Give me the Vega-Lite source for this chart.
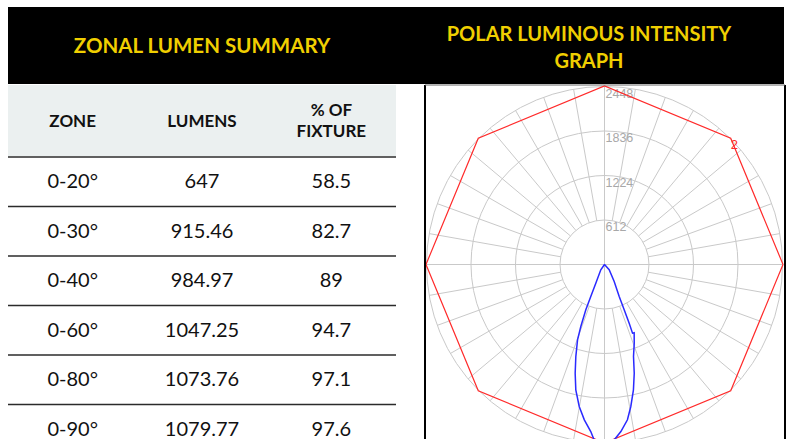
{
  "$schema": "https://vega.github.io/schema/vega-lite/v6.json",
  "background": "white",
  "padding": {"left": 7, "top": 7, "right": 0, "bottom": 0},
  "config": {"view": {"stroke": null}},
  "datasets": {
    "rings": [{"r": 612}, {"r": 1224}, {"r": 1836}, {"r": 2448}],
    "zones": [
      {"zone": "0-20°", "lumens": 647, "pct": 58.5},
      {"zone": "0-30°", "lumens": 915.46, "pct": 82.7},
      {"zone": "0-40°", "lumens": 984.97, "pct": 89},
      {"zone": "0-60°", "lumens": 1047.25, "pct": 94.7},
      {"zone": "0-80°", "lumens": 1073.76, "pct": 97.1},
      {"zone": "0-90°", "lumens": 1079.77, "pct": 97.6}
    ],
    "headers": [
      {"col": "zone", "label": "ZONE", "lines": 1},
      {"col": "lumens", "label": "LUMENS", "lines": 1},
      {"col": "pct", "label": "% OF\nFIXTURE", "lines": 2}
    ]
  },
  "spacing": 0,
  "vconcat": [
    {
      "spacing": 0,
      "hconcat": [
        {
          "width": 413, "height": 77,
          "view": {"fill": "#000000", "stroke": null},
          "data": {"values": [{"t": "ZONAL LUMEN SUMMARY"}]},
          "mark": {"type": "text", "font": "Lato", "fontWeight": "bold", "fontSize": 20.5, "color": "#f0cf00", "dx": -12.5, "dy": 1, "baseline": "middle"},
          "encoding": {"text": {"field": "t", "type": "nominal"}}
        },
        {
          "width": 363, "height": 77,
          "view": {"fill": "#000000", "stroke": null},
          "data": {"values": [{"t": "POLAR LUMINOUS INTENSITY\nGRAPH"}]},
          "mark": {"type": "text", "font": "Lato", "fontWeight": "bold", "fontSize": 20, "color": "#f0cf00", "dx": -13.5, "dy": -11, "baseline": "middle", "lineBreak": "\n", "lineHeight": 27},
          "encoding": {"text": {"field": "t", "type": "nominal"}}
        }
      ]
    },
    {
      "spacing": 27,
      "hconcat": [
        {
          "spacing": 0,
          "vconcat": [
            {
              "width": 388, "height": 71,
              "view": {"fill": "#ebf0f0", "stroke": null},
              "data": {"name": "headers"},
              "layer": [
                {
                  "transform": [{"filter": "datum.lines == 1"}],
                  "mark": {"type": "text", "font": "Lato", "fontWeight": "bold", "fontSize": 17, "color": "#111111", "baseline": "middle", "dy": 1},
                  "encoding": {
                    "x": {"field": "col", "type": "nominal", "scale": {"domain": ["zone", "lumens", "pct"], "paddingInner": 0, "paddingOuter": 0}, "axis": null},
                    "text": {"field": "label", "type": "nominal"}
                  }
                },
                {
                  "transform": [{"filter": "datum.lines == 2"}],
                  "mark": {"type": "text", "font": "Lato", "fontWeight": "bold", "fontSize": 17, "color": "#111111", "baseline": "middle", "dy": -9.5, "lineBreak": "\n", "lineHeight": 21},
                  "encoding": {
                    "x": {"field": "col", "type": "nominal", "scale": {"domain": ["zone", "lumens", "pct"], "paddingInner": 0, "paddingOuter": 0}, "axis": null},
                    "text": {"field": "label", "type": "nominal"}
                  }
                }
              ]
            },
            {
              "width": 388, "height": 284,
              "data": {"name": "zones"},
              "transform": [
                {"window": [{"op": "row_number", "as": "row"}]},
                {"calculate": "datum.row + 0.5", "as": "mid"}
              ],
              "layer": [
                {
                  "mark": {"type": "rule", "color": "#2b2b2b", "strokeWidth": 1.5},
                  "encoding": {
                    "y": {"field": "row", "type": "quantitative", "scale": {"domain": [1, 6.7374], "reverse": true, "nice": false, "zero": false}, "axis": null}
                  }
                },
                {
                  "transform": [{"fold": ["zone", "lumens", "pct"], "as": ["col", "val"]}],
                  "mark": {"type": "text", "font": "Lato", "fontSize": 20, "color": "#111111", "baseline": "middle", "dy": 0.5},
                  "encoding": {
                    "x": {"field": "col", "type": "nominal", "scale": {"domain": ["zone", "lumens", "pct"], "paddingInner": 0, "paddingOuter": 0}, "axis": null},
                    "y": {"field": "mid", "type": "quantitative", "scale": {"domain": [1, 6.7374], "reverse": true, "nice": false, "zero": false}, "axis": null},
                    "text": {"field": "val", "type": "nominal"}
                  }
                }
              ]
            }
          ]
        },
        {
          "width": 360, "height": 355,
          "layer": [
            {
              "data": {"name": "rings"},
              "mark": {"type": "point", "shape": "circle", "filled": false, "strokeWidth": 1, "color": "#c9c9c9", "opacity": 1, "clip": true},
              "encoding": {
                "x": {"datum": 0, "type": "quantitative", "scale": {"domain": [-2468.6, 2482.4], "nice": false, "zero": false}, "axis": null},
                "y": {"datum": 0, "type": "quantitative", "scale": {"domain": [-2413.6, 2468.6], "nice": false, "zero": false}, "axis": null},
                "size": {"field": "r", "type": "quantitative", "scale": {"type": "pow", "exponent": 2, "domain": [0, 2448], "range": [0, 126736]}, "legend": null}
              }
            },
            {
              "data": {"values": [
                {"a": 0}, {"a": 10}, {"a": 20}, {"a": 30}, {"a": 40}, {"a": 50}, {"a": 60}, {"a": 70}, {"a": 80},
                {"a": 90}, {"a": 100}, {"a": 110}, {"a": 120}, {"a": 130}, {"a": 140}, {"a": 150}, {"a": 160}, {"a": 170},
                {"a": 180}, {"a": 190}, {"a": 200}, {"a": 210}, {"a": 220}, {"a": 230}, {"a": 240}, {"a": 250}, {"a": 260},
                {"a": 270}, {"a": 280}, {"a": 290}, {"a": 300}, {"a": 310}, {"a": 320}, {"a": 330}, {"a": 340}, {"a": 350}
              ]},
              "transform": [
                {"calculate": "datum.a % 90 == 0 ? 0 : 612", "as": "r0"},
                {"calculate": "datum.r0 * sin(datum.a * PI / 180)", "as": "x"},
                {"calculate": "-datum.r0 * cos(datum.a * PI / 180)", "as": "y"},
                {"calculate": "2448 * sin(datum.a * PI / 180)", "as": "x2"},
                {"calculate": "-2448 * cos(datum.a * PI / 180)", "as": "y2"}
              ],
              "mark": {"type": "rule", "color": "#c9c9c9", "strokeWidth": 1, "clip": true},
              "encoding": {
                "x": {"field": "x", "type": "quantitative", "scale": {"domain": [-2468.6, 2482.4], "nice": false, "zero": false}, "axis": null},
                "y": {"field": "y", "type": "quantitative", "scale": {"domain": [-2413.6, 2468.6], "nice": false, "zero": false}, "axis": null},
                "x2": {"field": "x2"},
                "y2": {"field": "y2"}
              }
            },
            {
              "data": {"name": "rings"},
              "mark": {"type": "text", "font": "Liberation Sans", "fontSize": 12.5, "color": "#a8a8a8", "align": "left", "baseline": "alphabetic", "dx": 1, "dy": 11.5, "clip": true},
              "encoding": {
                "x": {"datum": 0, "type": "quantitative", "scale": {"domain": [-2468.6, 2482.4], "nice": false, "zero": false}, "axis": null},
                "y": {"field": "r", "type": "quantitative", "scale": {"domain": [-2413.6, 2468.6], "nice": false, "zero": false}, "axis": null},
                "text": {"field": "r", "type": "nominal"}
              }
            },
            {
              "data": {"values": [
                {"a": 0, "cd": 2455}, {"a": 45, "cd": 2455}, {"a": 90, "cd": 2455}, {"a": 135, "cd": 2455}, {"a": 180, "cd": 2455},
                {"a": 225, "cd": 2455}, {"a": 270, "cd": 2455}, {"a": 315, "cd": 2455}, {"a": 360, "cd": 2455}
              ]},
              "transform": [
                {"calculate": "datum.cd * sin(datum.a * PI / 180)", "as": "x"},
                {"calculate": "-datum.cd * cos(datum.a * PI / 180)", "as": "y"}
              ],
              "mark": {"type": "line", "color": "#ff2a2a", "strokeWidth": 1.2, "clip": true},
              "encoding": {
                "x": {"field": "x", "type": "quantitative", "scale": {"domain": [-2468.6, 2482.4], "nice": false, "zero": false}, "axis": null},
                "y": {"field": "y", "type": "quantitative", "scale": {"domain": [-2413.6, 2468.6], "nice": false, "zero": false}, "axis": null},
                "order": {"field": "a", "type": "quantitative"}
              }
            },
            {
              "data": {"values": [
                {"a": -60, "cd": 0}, {"a": -34.9, "cd": 89}, {"a": -24.9, "cd": 284}, {"a": -23.2, "cd": 479}, {"a": -22.4, "cd": 674},
                {"a": -20.9, "cd": 913}, {"a": -19.7, "cd": 1100}, {"a": -17.3, "cd": 1326}, {"a": -15.1, "cd": 1548}, {"a": -12.9, "cd": 1768},
                {"a": -10.1, "cd": 1983}, {"a": -7.4, "cd": 2154}, {"a": -4.7, "cd": 2305}, {"a": -3.4, "cd": 2415}, {"a": 0, "cd": 2480},
                {"a": 3.2, "cd": 2415}, {"a": 5.6, "cd": 2308}, {"a": 8.4, "cd": 2159}, {"a": 10.5, "cd": 1986}, {"a": 13.0, "cd": 1769},
                {"a": 15.3, "cd": 1550}, {"a": 17.5, "cd": 1327}, {"a": 20.7, "cd": 1157}, {"a": 23.5, "cd": 1023}, {"a": 22.2, "cd": 1020},
                {"a": 22.8, "cd": 876}, {"a": 23.5, "cd": 679}, {"a": 24.7, "cd": 484}, {"a": 29.7, "cd": 269}, {"a": 41.6, "cd": 97}, {"a": 60, "cd": 0}
              ]},
              "transform": [
                {"calculate": "datum.cd * sin(datum.a * PI / 180)", "as": "x"},
                {"calculate": "-datum.cd * cos(datum.a * PI / 180)", "as": "y"}
              ],
              "mark": {"type": "line", "color": "#2a2aff", "strokeWidth": 1.5, "clip": true},
              "encoding": {
                "x": {"field": "x", "type": "quantitative", "scale": {"domain": [-2468.6, 2482.4], "nice": false, "zero": false}, "axis": null},
                "y": {"field": "y", "type": "quantitative", "scale": {"domain": [-2413.6, 2468.6], "nice": false, "zero": false}, "axis": null},
                "order": {"value": null}
              }
            },
            {
              "data": {"values": [{"a": 135, "cd": 2455, "t": "2"}]},
              "transform": [
                {"calculate": "datum.cd * sin(datum.a * PI / 180)", "as": "x"},
                {"calculate": "-datum.cd * cos(datum.a * PI / 180)", "as": "y"}
              ],
              "mark": {"type": "text", "font": "Liberation Sans", "fontSize": 13, "color": "#ff2a2a", "align": "left", "baseline": "alphabetic", "dx": 0, "dy": 11},
              "encoding": {
                "x": {"field": "x", "type": "quantitative", "scale": {"domain": [-2468.6, 2482.4], "nice": false, "zero": false}, "axis": null},
                "y": {"field": "y", "type": "quantitative", "scale": {"domain": [-2413.6, 2468.6], "nice": false, "zero": false}, "axis": null},
                "text": {"field": "t", "type": "nominal"}
              }
            },
            {
              "data": {"values": [{"edge": "left", "x": -2468.6}, {"edge": "right", "x": 2482.4}]},
              "mark": {"type": "rule", "color": "#000000", "strokeWidth": 2},
              "encoding": {
                "x": {"field": "x", "type": "quantitative", "scale": {"domain": [-2468.6, 2482.4], "nice": false, "zero": false}, "axis": null}
              }
            },
            {
              "data": {"values": [{"edge": "top", "y": 2468.6}]},
              "mark": {"type": "rule", "color": "#666666", "strokeWidth": 1},
              "encoding": {
                "y": {"field": "y", "type": "quantitative", "scale": {"domain": [-2413.6, 2468.6], "nice": false, "zero": false}, "axis": null}
              }
            }
          ]
        }
      ]
    }
  ]
}
